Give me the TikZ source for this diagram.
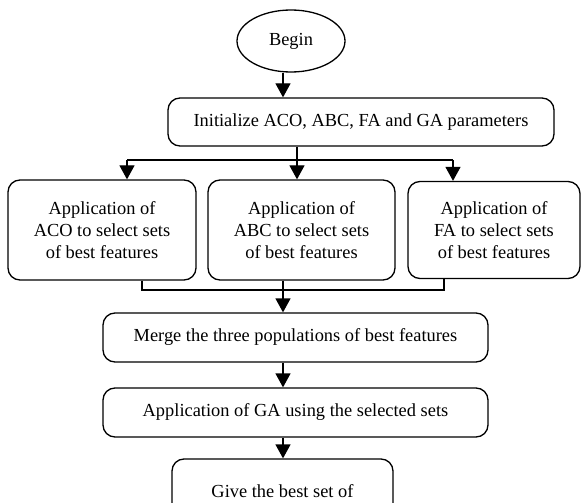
\documentclass[tikz,border=0pt]{standalone}
\usepackage{fontspec}
\setmainfont{Liberation Serif}
\usetikzlibrary{arrows.meta,shapes.geometric}
\tikzset{every node/.style={font=\fontsize{18.4}{21.7}\selectfont},
    stepbox/.style={draw,rounded corners=12pt,align=center,inner sep=0pt},
    arr/.style={-{Triangle[width=15pt,length=14pt]}}}
\begin{document}
\begin{tikzpicture}[x=1pt,y=-1pt,line width=1.3pt]
\useasboundingbox (0,0) rectangle (582,503);
\node[draw,ellipse,minimum width=108pt,minimum height=62pt] (begin) at (291,41) {Begin};
\node[stepbox,minimum width=386pt,minimum height=48pt] (init) at (361,122)
    {Initialize ACO, ABC, FA and GA parameters};
\node[stepbox,minimum width=188pt,minimum height=100pt] (aco) at (102,230)
    {Application of\\ACO to select sets\\of best features};
\node[stepbox,minimum width=187pt,minimum height=100pt] (abc) at (301.5,230)
    {Application of\\ABC to select sets\\of best features};
\node[stepbox,minimum width=172pt,minimum height=97pt] (fa) at (494,230)
    {Application of\\FA to select sets\\of best features};
\node[stepbox,minimum width=385pt,minimum height=49pt] (merge) at (295.5,337.5)
    {Merge the three populations of best features};
\node[stepbox,minimum width=385pt,minimum height=49pt] (ga) at (295.5,412.5)
    {Application of GA using the selected sets};
\node[stepbox,minimum width=221pt,minimum height=64pt] (give) at (282.5,491)
    {Give the best set of};
% split and join points
\coordinate (split) at (297,160);
\coordinate (sa) at (127,160);
\coordinate (sf) at (453,160);
\coordinate (ja) at (142,290);
\coordinate (jf) at (444,290);
\coordinate (jm) at (283,290);
% connectors
\draw[arr] (begin.south -| jm) -- (jm |- init.north);
\draw (init.south -| split) -- (split);
\draw (sa) -- (sf);
\draw[arr] (sa) -- (sa |- aco.north);
\draw[arr] (split) -- (split |- abc.north);
\draw[arr] (sf) -- (sf |- fa.north);
\draw (ja |- aco.south) -- (ja) -- (jf) -- (jf |- fa.south);
\draw[arr] (jm |- abc.south) -- (jm |- merge.north);
\draw[arr] (jm |- merge.south) -- (jm |- ga.north);
\draw[arr] (jm |- ga.south) -- (jm |- give.north);
\end{tikzpicture}
\end{document}
